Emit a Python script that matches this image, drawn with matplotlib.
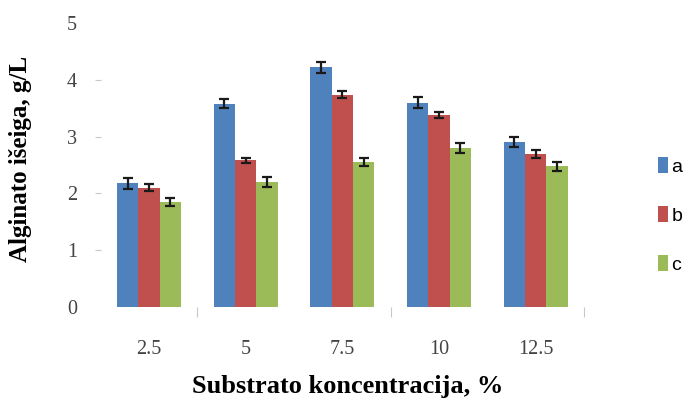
import matplotlib
matplotlib.use("Agg")
import matplotlib.pyplot as plt
import numpy as np
from matplotlib.patches import Patch

# substrate concentration, %
concentrations = ["2.5", "5", "7.5", "10", "12.5"]
series_names = ["a", "b", "c"]
yield_a = [2.18, 3.58, 4.22, 3.60, 2.90]
yield_b = [2.10, 2.58, 3.74, 3.38, 2.70]
yield_c = [1.85, 2.20, 2.55, 2.80, 2.48]
err_a = [0.10, 0.08, 0.10, 0.09, 0.09]
err_b = [0.06, 0.05, 0.06, 0.06, 0.07]
err_c = [0.07, 0.09, 0.07, 0.08, 0.08]

colors = ["#4F81BD", "#C0504D", "#9BBB59"]

fig = plt.figure(figsize=(6.84, 4.03), dpi=100)
ax = fig.add_axes([0.147, 0.238, 0.707, 0.705])

x = np.arange(len(concentrations))
w = 0.22
for i, (vals, errs) in enumerate(zip([yield_a, yield_b, yield_c], [err_a, err_b, err_c])):
    ax.bar(x + (i - 1) * w, vals, width=w, color=colors[i], zorder=2)
    ax.errorbar(x + (i - 1) * w, vals, yerr=errs, fmt="none", ecolor="#1a1a1a",
                elinewidth=1.6, capsize=3.5, capthick=1.6, zorder=3)

ax.set_xlim(-0.5, len(concentrations) - 0.5)
ax.set_ylim(0, 5)
for s in ax.spines.values():
    s.set_visible(False)

tick_font = dict(fontfamily="Liberation Serif", fontsize=14.5, color="#444444")
ax.set_yticks(range(6))
ax.set_yticklabels([str(v) for v in range(6)], **tick_font)
ax.tick_params(axis="y", length=4, width=0.8, color="#c8c8c8", pad=13)
yt = ax.yaxis.get_major_ticks()
yt[0].tick1line.set_visible(False)
yt[-1].tick1line.set_visible(False)

# category labels with faint tick marks every second boundary
ax.set_xticks(x)
ax.set_xticklabels(concentrations, **tick_font)
ax.tick_params(axis="x", length=0, pad=24)
ax.set_xticks([0.5, 2.5, 4.5], minor=True)
ax.tick_params(axis="x", which="minor", length=7, width=0.8, color="#c8c8c8", direction="out")

ax.set_xlabel("Substrato koncentracija, %", fontfamily="Liberation Serif",
              fontweight="bold", fontsize=19, va="center", ha="center")
ax.xaxis.set_label_coords(0.511, -0.278)
ax.set_ylabel("Alginato išeiga, g/L", fontfamily="Liberation Serif",
              fontweight="bold", fontsize=18, va="center", ha="center")
ax.yaxis.set_label_coords(-0.166, 0.52)

handles = [Patch(facecolor=c) for c in colors]
fig.legend(handles, series_names, loc="upper left", bbox_to_anchor=(0.962, 0.61),
           frameon=False, handlelength=0.5, handleheight=0.9, handletextpad=0.2,
           labelspacing=1.55, borderaxespad=0, borderpad=0,
           prop={"family": "Liberation Sans", "size": 14})

fig.savefig("out.png", dpi=100)
